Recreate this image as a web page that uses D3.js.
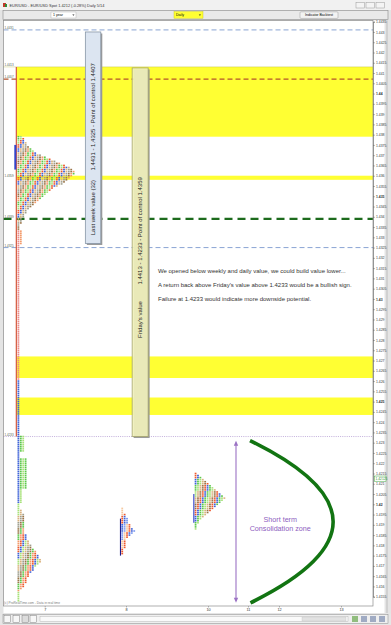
<!DOCTYPE html>
<html lang="en">
<head>
<meta charset="utf-8">
<title>EUR/USD Spot - Daily profile</title>
<script src="https://d3js.org/d3.v7.min.js"></script>
<style>
  body { margin: 0; background: #e4e4e4; }
  svg text { font-family: Arial, "Liberation Sans", sans-serif; }
</style>
</head>
<body>
<svg id="chart"></svg>
<script>
// ---- data ----
let dayTicks = [7, 8, 10, 11, 12, 13];
let priceTicks = [1.4435, 1.4430, 1.4425, 1.4420, 1.4415, 1.4410, 1.4405, 1.4400, 1.4395, 1.4390,
  1.4385, 1.4380, 1.4375, 1.4370, 1.4365, 1.4360, 1.4355, 1.4350, 1.4345, 1.4340,
  1.4335, 1.4330, 1.4325, 1.4320, 1.4315, 1.4310, 1.4305, 1.4300, 1.4295, 1.4290,
  1.4285, 1.4280, 1.4275, 1.4270, 1.4265, 1.4260, 1.4255, 1.4250, 1.4245, 1.4240,
  1.4235, 1.4230, 1.4225, 1.4220, 1.4215, 1.4210, 1.4205, 1.4200, 1.4195, 1.4190,
  1.4185, 1.4180, 1.4175, 1.4170, 1.4165, 1.4160, 1.4155];
let lastPrice = 1.42125;

// horizontal reference levels (left labels)
let levelPrices = [1.4431, 1.4413, 1.4407, 1.4359, 1.4339, 1.4325, 1.4233];
let levelKinds  = ["week", "friday", "weekPoc", "fridayPoc", "weekly", "week", "friday"];

// yellow value zones
let bandHigh = [1.4413, 1.4360, 1.4272, 1.4252];
let bandLow  = [1.4379, 1.4358, 1.42615, 1.42435];

// Friday value area (red bar on the left)
let fridayHigh = 1.4413, fridayLow = 1.4233;

// TPO profiles: x anchor (day), top price, cells per 0.0001 row
let weekDay = 6.663;
let weekTop = 1.4379;
let weekCounts = [2,3,3,4,4,5,6,7,8,10,12,14,16,18,20,22,23,24,24,23,22,21,20,19,17,15,
  14,13,12,11,10,9,8,7,6,5,4,4,3,3,2,2,2,1,1,1];
let lowTop = 1.4197;
let lowCounts = [2,2,3,3,3,3,3,3,3,3, 3,3,4,4,4,5,5,6,6,7, 8,8,9,9,10,10,9,8,7,7,
  6,5,5,4,4,4,3,3,2,1];
let day8Day = 7.94;
let day8Top = 1.4198;
let day8Counts = [1,1,1,2,2,3,3,3,4,4,5,6,5,4,3,2,2,2,2,2,1,1,1];
let day10Day = 9.67;
let day10Top = 1.4215;
let day10Counts = [1,2,3,4,5,6,7,8,9,10,11,12,13,12,11,10,9,8,7,6,5,4,3,2,2,1,1,1];

// single-print column runs under the weekly profile (period codes per row)
let runHigh  = [1.4333, 1.4326, 1.4260, 1.4233, 1.4225, 1.4222, 1.4207, 1.4200, 1.4157];
let runLow   = [1.4327, 1.4261, 1.4234, 1.4226, 1.4223, 1.4208, 1.4201, 1.4198, 1.4153];
let runCells = ["97", "9", "3", "301", "3", "3010", "31", "1", "1"];

// initial balance bars
let ibDay  = [6.663, 7.94, 9.67];
let ibHigh = [1.4375, 1.4193, 1.4205];
let ibLow  = [1.4363, 1.4175, 1.4191];

// annotations
let boxTexts = [["Last week value (32)", "1.4431 - 1.4325 - Point of control 1.4407"],
                ["Friday's value", "1.4413 - 1.4233 - Point of control 1.4359"]];
let boxDay0 = [7.50, 8.15], boxDay1 = [7.69, 8.54];
let boxTop = [1.4430, 1.44125], boxBottom = [1.4327, 1.4233];
let boxText1At = [1.4331, 1.4281], boxText2At = [1.43625, 1.4307];
let notes = ["We opened below weekly and daily value, we could build value lower...",
  "A return back above Friday's value above 1.4233 would be a bullish sign.",
  "Failure at 1.4233 would indicate more downside potential."];
let notePrices = [1.43138, 1.4307, 1.43];
let noteDay = 8.78;
let zoneText = ["Short term", "Consolidation zone"];

// ---- layout ----
let W = 391, H = 625;
let svg = d3.select("#chart").attr("width", W).attr("height", H);

let y = d3.scaleLinear().domain([1.4155, 1.4435]).range([596.7, 21.7]);
let x = d3.scaleLinear().domain(dayTicks).range([44.7, 126, 208, 248, 279, 341]);
let plotL = 3.5, plotR = 373, plotT = 20.5, plotB = 606;
let rowH = y(1.4) - y(1.4001);
let cellW = 2.4;

let pal = ["#5cc84a", "#a8e27a", "#ee5a2e", "#3f62d8", "#d9b27e",
           "#9e9e8c", "#9a7448", "#f39a6a", "#1c1c8c", "#ec8a8a"];

// window chrome
svg.append("rect").attr("width", W).attr("height", H).attr("fill", "#e4e4e4");
svg.append("rect").attr("x", 0).attr("y", 0).attr("width", W).attr("height", 10).attr("fill", "#f1f1f1");
svg.append("rect").attr("x", 3).attr("y", 3).attr("width", 3).attr("height", 4).attr("fill", "#c0392b");
svg.append("rect").attr("x", 5).attr("y", 4).attr("width", 2).attr("height", 3).attr("fill", "#2e8b3a");
svg.append("text").attr("x", 9.5).attr("y", 7).attr("font-size", 3.9).attr("fill", "#333")
  .text("EUR/USD - EUR/USD Spot    1.4212 (-0.28%)    Daily 5/14");
[356, 366, 376].forEach(function(bx) {
  svg.append("rect").attr("x", bx).attr("y", 2.5).attr("width", 8.5).attr("height", 5.5)
    .attr("fill", "#f4f4f4").attr("stroke", "#999").attr("stroke-width", 0.5);
});
svg.append("rect").attr("x", 3).attr("y", 10.5).attr("width", 385).attr("height", 9)
  .attr("fill", "#e9e9e9").attr("stroke", "#8a8a8a").attr("stroke-width", 0.6);
svg.append("rect").attr("x", 51).attr("y", 12).attr("width", 25).attr("height", 6)
  .attr("fill", "#fff").attr("stroke", "#aaa").attr("stroke-width", 0.4);
svg.append("text").attr("x", 53).attr("y", 16.3).attr("font-size", 3.6).text("1 year");
svg.append("path").attr("d", "M72.3,14.6h2.2l-1.1,1.2z").attr("fill", "#222");
svg.append("rect").attr("x", 174).attr("y", 11.6).attr("width", 29).attr("height", 6.6)
  .attr("fill", "#ffff33").attr("stroke", "#c8c800").attr("stroke-width", 0.4);
svg.append("text").attr("x", 176).attr("y", 16.3).attr("font-size", 3.6).text("Daily");
svg.append("path").attr("d", "M198.8,14.6h2.2l-1.1,1.2z").attr("fill", "#222");
svg.append("rect").attr("x", 300).attr("y", 11.8).attr("width", 38).attr("height", 6.6).attr("rx", 1)
  .attr("fill", "#f3f3f3").attr("stroke", "#999").attr("stroke-width", 0.5);
svg.append("text").attr("x", 319).attr("y", 16.3).attr("font-size", 3.5).attr("text-anchor", "middle")
  .text("Indicator Backtest");

// plot background
svg.append("rect").attr("x", plotL).attr("y", plotT).attr("width", 384.5 - plotL).attr("height", 613 - plotT)
  .attr("fill", "#fff");

let g = svg.append("g");

// yellow zones
g.selectAll(".band").data(bandHigh).enter().append("rect")
  .attr("x", x(weekDay) - 0.5).attr("width", d => plotR - x(weekDay) + 0.5)
  .attr("y", d => y(d)).attr("height", (d, i) => y(bandLow[i]) - y(d))
  .attr("fill", "#ffff33");

// reference lines
let lineStyle = {
  week:      {c: "#8aa4d4", w: 1,   dash: "5,3"},
  friday:    {c: "#a88ccc", w: 0.7, dash: "1,1.2"},
  weekPoc:   {c: "#b4532c", w: 1.2, dash: "5,3"},
  fridayPoc: {c: "#dddd00", w: 0,   dash: null},
  weekly:    {c: "#1d6b1d", w: 2.2, dash: "8,5"}
};
levelPrices.forEach(function(p, i) {
  let s = lineStyle[levelKinds[i]];
  if (i == 1) s = {c: "#b0b040", w: 0.7, dash: "1,1"};
  if (s.w > 0) {
    g.append("line").attr("x1", plotL).attr("x2", plotR).attr("y1", y(p)).attr("y2", y(p))
      .attr("stroke", s.c).attr("stroke-width", s.w).attr("stroke-dasharray", s.dash);
  }
  g.append("text").attr("x", 4.5).attr("y", y(p) - 1).attr("font-size", 3).attr("fill", "#556655")
    .text(d3.format(".4f")(p));
});

// Friday value bar
g.append("line").attr("x1", x(weekDay) - 1).attr("x2", x(weekDay) - 1)
  .attr("y1", y(fridayHigh)).attr("y2", y(fridayLow))
  .attr("stroke", "#d0482a").attr("stroke-width", 1.1);

// TPO cells
function profileCells(day, top, counts, colors, step) {
  let cells = [];
  counts.forEach(function(n, r) {
    for (let c = 0; c < n; c++) {
      cells.push({x: x(day) + c * cellW, p: top - r * 0.0001,
        color: colors[(c + Math.floor(r / step)) % colors.length]});
    }
  });
  return cells;
}
let cells = [];
cells = cells.concat(profileCells(weekDay, weekTop, weekCounts,
  [pal[0], pal[1], pal[2], pal[3], pal[4], pal[5], pal[6], pal[7]], 2));
cells = cells.concat(profileCells(weekDay, lowTop, lowCounts,
  [pal[1], pal[4], pal[5], pal[6], pal[0], pal[7], pal[2], pal[3]], 3));
cells = cells.concat(profileCells(day8Day, day8Top, day8Counts,
  ["#f5c9a0", pal[2], pal[3], "#7896f0"], 4));
cells = cells.concat(profileCells(day10Day, day10Top, day10Counts,
  [pal[2], pal[3], pal[0], pal[1], pal[4], pal[6]], 3));
runHigh.forEach(function(h, i) {
  for (let p = h; p > runLow[i] - 0.00005; p -= 0.0001) {
    runCells[i].split("").forEach(function(k, c) {
      cells.push({x: x(weekDay) + c * cellW, p: p, color: pal[+k]});
    });
  }
});
g.selectAll(".tpo").data(cells).enter().append("rect")
  .attr("x", d => d.x + 0.2).attr("y", d => y(d.p) - rowH / 2 + 0.25)
  .attr("width", cellW - 0.6).attr("height", rowH - 0.5)
  .attr("fill", d => d.color);

// initial balance bars
g.selectAll(".ib").data(ibDay).enter().append("rect")
  .attr("x", (d, i) => x(d) - (i == 0 ? 3 : 1.2)).attr("width", (d, i) => i == 0 ? 2 : 1.1)
  .attr("y", (d, i) => y(ibHigh[i])).attr("height", (d, i) => y(ibLow[i]) - y(ibHigh[i]))
  .attr("fill", (d, i) => i == 1 ? "#1c1c8c" : "#3344cc");

// value boxes
boxTexts.forEach(function(t, i) {
  let bx = x(boxDay0[i]), bw = x(boxDay1[i]) - bx;
  let by = y(boxTop[i]), bh = y(boxBottom[i]) - by;
  g.append("rect").attr("x", bx + 1.5).attr("y", by + 1.5).attr("width", bw).attr("height", bh)
    .attr("fill", "#9a9a9a");
  g.append("rect").attr("x", bx).attr("y", by).attr("width", bw).attr("height", bh)
    .attr("fill", i == 0 ? "#dce5f1" : "#f4f4bc").attr("fill-opacity", i == 0 ? 1 : 0.88)
    .attr("stroke", i == 0 ? "#8796a6" : "#a3a36c").attr("stroke-width", 0.8);
  let cx = bx + bw / 2;
  [boxText1At[i], boxText2At[i]].forEach(function(p, k) {
    g.append("text").attr("transform", "translate(" + cx + "," + y(p) + ") rotate(-90)")
      .attr("dy", "0.35em").attr("font-size", 6).attr("fill", "#222").text(t[k]);
  });
});

// commentary
g.selectAll(".note").data(notes).enter().append("text")
  .attr("x", x(noteDay)).attr("y", (d, i) => y(notePrices[i])).attr("dy", "0.35em")
  .attr("font-size", 6).attr("fill", "#333").text(d => d);

// consolidation arrow
let arrowDay = 10.7, arrowTop = 1.4231, arrowBot = 1.4152;
let ax = x(arrowDay);
g.append("line").attr("x1", ax).attr("x2", ax).attr("y1", y(arrowTop) + 2).attr("y2", y(arrowBot) - 2)
  .attr("stroke", "#9b72c4").attr("stroke-width", 1.1);
g.append("path").attr("d", "M" + ax + "," + y(arrowTop) + "l-2.2,5h4.4z").attr("fill", "#9b72c4");
g.append("path").attr("d", "M" + ax + "," + y(arrowBot) + "l-2.2,-5h4.4z").attr("fill", "#9b72c4");
g.selectAll(".zone").data(zoneText).enter().append("text")
  .attr("x", x(12.02)).attr("y", (d, i) => y(1.41915) + i * 9).attr("text-anchor", "middle")
  .attr("font-size", 7.2).attr("fill", "#8e60c0").text(d => d);

// consolidation arc
let arc = d3.path();
arc.moveTo(x(11.065), y(1.4231));
arc.quadraticCurveTo(x(14.21), y(1.41915), x(11.08), y(1.4152));
g.append("path").attr("d", arc.toString()).attr("fill", "none")
  .attr("stroke", "#127412").attr("stroke-width", 3.6);

// plot frame
svg.append("rect").attr("x", plotL).attr("y", plotT).attr("width", plotR - plotL).attr("height", plotB - plotT)
  .attr("fill", "none").attr("stroke", "#8c8c8c").attr("stroke-width", 0.7);
svg.append("line").attr("x1", 387).attr("x2", 387).attr("y1", plotT).attr("y2", 613)
  .attr("stroke", "#b0b0b0").attr("stroke-width", 0.7);

// price axis
let yAxis = d3.axisRight(y).tickValues(priceTicks).tickSize(2).tickPadding(1)
  .tickFormat(d => String(+d.toFixed(4)));
let ya = svg.append("g").attr("transform", "translate(" + plotR + ",0)").call(yAxis);
ya.select(".domain").attr("stroke", "#666").attr("stroke-width", 0.6);
ya.selectAll(".tick line").attr("stroke", "#555").attr("stroke-width", 0.4);
ya.selectAll(".tick text").attr("font-size", 3.4).attr("fill", "#333")
  .attr("font-weight", d => Math.round(d * 10000) % 50 == 0 ? "bold" : null);

// last price tag
svg.append("rect").attr("x", 374.5).attr("y", y(lastPrice) - 2.6).attr("width", 11.5).attr("height", 5.2)
  .attr("fill", "#fff").attr("stroke", "#3aa33a").attr("stroke-width", 0.5);
svg.append("text").attr("x", 375.5).attr("y", y(lastPrice) + 1.2).attr("font-size", 3.3)
  .attr("fill", "#2c8c2c").text(String(lastPrice));

// day axis
let xAxis = d3.axisBottom(x).tickValues(dayTicks).tickSize(1.5).tickPadding(1)
  .tickFormat(d3.format("d"));
let xa = svg.append("g").attr("transform", "translate(0," + plotB + ")").call(xAxis);
xa.select(".domain").remove();
xa.selectAll(".tick line").attr("stroke", "#555").attr("stroke-width", 0.4);
xa.selectAll(".tick text").attr("font-size", 3.8).attr("fill", "#333");

svg.append("text").attr("x", 4).attr("y", 604).attr("font-size", 3.2).attr("fill", "#7a7a7a")
  .text("(c) ProRealTime.com - Data in real time");

// bottom toolbar
svg.append("rect").attr("x", 0).attr("y", 613.5).attr("width", W).attr("height", 11.5).attr("fill", "#e6e6e6");
svg.append("rect").attr("x", 3).attr("y", 614.5).attr("width", 385).attr("height", 9)
  .attr("fill", "#efefef").attr("stroke", "#8a8a8a").attr("stroke-width", 0.5);
[4, 13, 22, 30].forEach(function(ix, i) {
  svg.append("rect").attr("x", ix).attr("y", 615.8).attr("width", 6.5).attr("height", 6.5)
    .attr("fill", i == 2 ? "#dcdcdc" : "#f7f7f7").attr("stroke", "#666").attr("stroke-width", 0.4);
});
svg.append("rect").attr("x", 40).attr("y", 616.5).attr("width", 308).attr("height", 5)
  .attr("fill", "#fafafa").attr("stroke", "#aaa").attr("stroke-width", 0.4);
svg.append("rect").attr("x", 302).attr("y", 617).attr("width", 44).attr("height", 4)
  .attr("fill", "#e2e2e2").attr("stroke", "#bbb").attr("stroke-width", 0.3);
[352, 361, 370, 379].forEach(function(ix, i) {
  svg.append("rect").attr("x", ix).attr("y", 616).attr("width", 6).attr("height", 6)
    .attr("fill", i == 0 ? "#6aa84f" : "#7f8fb0").attr("opacity", 0.7);
});
</script>
</body>
</html>
